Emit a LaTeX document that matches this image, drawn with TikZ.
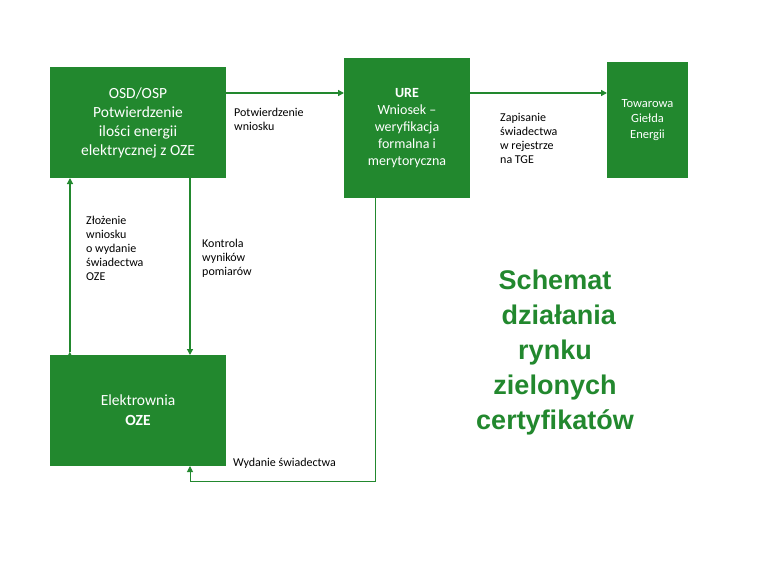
\documentclass[tikz,border=0pt]{standalone}
\usepackage{fontspec}
\setmainfont{Carlito}
\newfontfamily\titlefont{Liberation Sans}
\usetikzlibrary{arrows.meta}
\definecolor{gr}{RGB}{34,136,46}
\begin{document}
\begin{tikzpicture}[x=1pt,y=-1pt,
 box/.style={fill=gr,text=white,align=center,inner sep=0pt},
 arr/.style={draw=gr,line width=1.3pt,-{Triangle[length=6pt,width=6pt]}},
 lab/.style={align=left,anchor=north west,font=\fontsize{12}{14}\selectfont,inner sep=0pt}]
\useasboundingbox (0,0) rectangle (760,570);
\node[box,minimum width=176pt,minimum height=111pt,font=\fontsize{15.5}{19}\selectfont] (osd) at (138,122.5) {OSD/OSP\\Potwierdzenie\\ilości energii\\elektrycznej z OZE};
\node[box,minimum width=126pt,minimum height=140pt,font=\fontsize{14}{17}\selectfont] (ure) at (407,128) {\textbf{URE}\\Wniosek –\\weryfikacja\\formalna i\\merytoryczna};
\node[box,minimum width=81pt,minimum height=116pt,font=\fontsize{12.5}{15.5}\selectfont] (tge) at (647.5,120) {Towarowa\\Giełda\\Energii};
\node[box,minimum width=176pt,minimum height=111pt,font=\fontsize{15.5}{20}\selectfont] (el) at (138,410.5) {Elektrownia\\\textbf{OZE}};
\coordinate (a1) at (226,93); \coordinate (a2) at (344,93);
\draw[arr] (a1) -- (a2);
\coordinate (b1) at (470,93); \coordinate (b2) at (607,93);
\draw[arr] (b1) -- (b2);
\draw[arr] (el.south west |- el.north) ++(20,-3) coordinate (c1);
\coordinate (c1) at (70,352); \coordinate (c2) at (70,178);
\draw[arr] (c1) -- (c2);
\coordinate (d1) at (190,178); \coordinate (d2) at (190,355);
\draw[arr] (d1) -- (d2);
\coordinate (e1) at (375,198); \coordinate (e2) at (190,466);
\draw[arr,line width=1pt] (e1) -- (375,481) -- (190,481) -- (e2);
\node[lab] (l1) at (234,108) {Potwierdzenie\\wniosku};
\node[lab] (l2) at (500,113) {Zapisanie\\świadectwa\\w rejestrze\\na TGE};
\node[lab] (l3) at (86,216) {Złożenie\\wniosku\\o wydanie\\świadectwa\\OZE};
\node[lab] (l4) at (202,239) {Kontrola\\wyników\\pomiarów};
\node[lab] (l5) at (233,458) {Wydanie świadectwa};
\node[align=center,text=gr,font=\titlefont\bfseries\fontsize{27}{35}\selectfont] (t) at (555,353) {Schemat\\\ działania\\rynku\\zielonych\\certyfikatów};
\end{tikzpicture}
\end{document}
